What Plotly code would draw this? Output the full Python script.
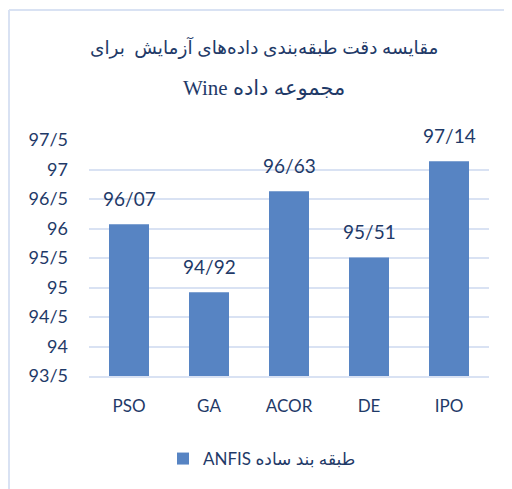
import plotly.graph_objects as go

categories = ["PSO", "GA", "ACOR", "DE", "IPO"]
accuracy = [96.07, 94.92, 96.63, 95.51, 97.14]
value_labels = ["96/07", "94/92", "96/63", "95/51", "97/14"]
tick_values = [93.5, 94, 94.5, 95, 95.5, 96, 96.5, 97, 97.5]
tick_labels = ["93/5", "94", "94/5", "95", "95/5", "96", "96/5", "97", "97/5"]
series_name = "ANFIS طبقه بند ساده"
title_line1 = "مقایسه دقت طبقه‌بندی داده‌های آزمایش  برای"
title_line2 = "Wine مجموعه داده"

navy = "#1f3a68"
grid = "#d9e2f3"
font_main = "Lato, Open Sans, DejaVu Sans, sans-serif"
font_title = "Liberation Serif, DejaVu Sans, serif"

# page offset: the browser body has an 8px margin
OFF = 8
PL, PT, PW, PH = 89, 140, 400, 236   # plot area in page pixels


def px_x(x):
    return (x - PL) / PW


def px_y(y):
    return (PT + PH - y) / PH


fig = go.Figure()
fig.add_trace(go.Bar(
    x=categories, y=accuracy, name=series_name,
    marker=dict(color="#5784c3", line=dict(width=0)),
    showlegend=True,
))

annotations = []
for c, v, t in zip(categories, accuracy, value_labels):
    annotations.append(dict(
        x=c, y=v, xref="x", yref="y", text=t, showarrow=False,
        yanchor="middle", yshift=26,
        font=dict(family=font_main, size=19, color=navy),
    ))
annotations.append(dict(
    x=px_x(264), y=px_y(48), xref="paper", yref="paper", text=title_line1,
    showarrow=False, xanchor="center", yanchor="middle",
    font=dict(family=font_title, size=18.5, color=navy),
))
annotations.append(dict(
    x=px_x(264), y=px_y(88), xref="paper", yref="paper", text=title_line2,
    showarrow=False, xanchor="center", yanchor="middle",
    font=dict(family=font_title, size=21, color=navy),
))

fig.update_layout(
    width=512 - OFF, height=489 - OFF,
    margin=dict(l=PL - OFF, r=512 - PL - PW, t=PT - OFF, b=489 - PT - PH),
    paper_bgcolor="white", plot_bgcolor="white",
    bargap=0.5,
    showlegend=True,
    legend=dict(
        orientation="h", x=px_x(262), xanchor="center",
        y=px_y(459), yanchor="middle",
        font=dict(family=font_main, size=17, color=navy),
        itemwidth=30,
    ),
    annotations=annotations,
    shapes=[
        dict(type="line", xref="paper", yref="paper",
             x0=px_x(9), x1=px_x(9), y0=px_y(500), y1=px_y(10),
             line=dict(color=grid, width=2)),
        dict(type="line", xref="paper", yref="paper",
             x0=px_x(9), x1=px_x(520), y0=px_y(10), y1=px_y(10),
             line=dict(color=grid, width=2)),
    ],
)
fig.update_yaxes(
    range=[93.5, 97.5], tickvals=tick_values, ticktext=tick_labels,
    showgrid=True, gridcolor=grid, gridwidth=1.5, zeroline=False,
    showline=False, ticks="", ticklabelstandoff=20,
    tickfont=dict(family=font_main, size=18, color=navy),
)
fig.update_xaxes(
    showgrid=False, zeroline=False, showline=True, linecolor=grid, linewidth=1.5,
    ticks="", ticklabelstandoff=14,
    tickfont=dict(family=font_main, size=17, color=navy),
)

fig.write_html("out.html")
